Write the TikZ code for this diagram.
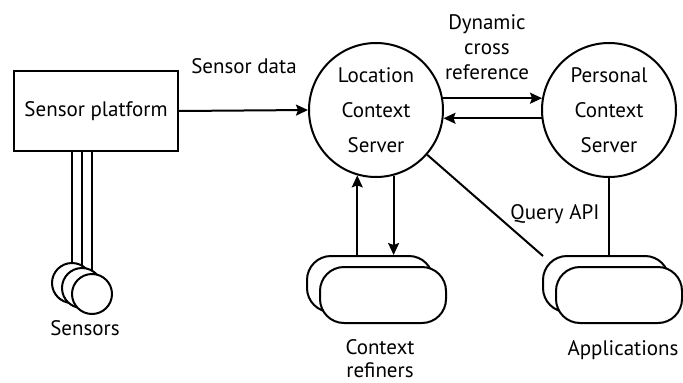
\documentclass[tikz,border=0pt]{standalone}
\usepackage{fontspec}
\setmainfont{PT Sans}
\usepackage{tikz}
\usetikzlibrary{arrows.meta}
\usetikzlibrary{positioning}

\tikzset{
  every picture/.style={line width=2pt,>={Stealth[length=12pt,width=11pt,inset=2pt]}},
  lbl/.style={font=\fontsize{21}{24}\selectfont,align=center,inner sep=0pt},
  server/.style={draw,circle,fill=white,minimum size=134pt,inner sep=0pt,
    font=\fontsize{21}{35}\selectfont,align=center},
  pod/.style={draw,fill=white,rounded corners=24pt,minimum width=126pt,minimum height=56pt},
  sensor/.style={draw,circle,fill=white,minimum size=40pt,inner sep=0pt}
}

\begin{document}
\begin{tikzpicture}[x=1pt,y=-1pt]
	 \useasboundingbox (0,0) rectangle (683,383);
	 \node[draw,minimum width=164pt,minimum height=80pt,lbl] (plat) at (96,111) {Sensor platform};
	 \node[server] (loc) at (376,110) {Location\\Context\\Server};
	 \node[server] (pcs) at (609,110) {Personal\\Context\\Server};
	 \coordinate (s1c) at (72,283);
	 \coordinate (s2c) at (82,288);
	 \coordinate (s3c) at (92,294);
	 % wires down to the sensors
	 \draw (plat.south -| s1c) -- (s1c);
	 \draw (plat.south -| s2c) -- (s2c);
	 \draw (plat.south -| s3c) -- (s3c);
	 \node[sensor] (s1) at (s1c) {};
	 \node[sensor] (s2) at (s2c) {};
	 \node[sensor] (s3) at (s3c) {};
	 \node[lbl] (sens) at (85,328) {Sensors};
	 % query lines go behind the application boxes
	 \draw (loc) -- (543,256) coordinate (qend);
	 \draw (pcs) -- (pcs |- qend);
	 \node[pod] (ref2) at (370,284) {};
	 \node[pod] (ref1) at (383,295) {};
	 \node[pod] (app2) at (606,284) {};
	 \node[pod] (app1) at (619,295) {};
	 \node[lbl,font=\fontsize{21}{23}\selectfont] (reflbl) at (380,359) {Context\\refiners};
	 \node[lbl] (applbl) at (623,350) {Applications};
	 \draw[->] (plat.east) -- (loc.west);
	 \draw[->] (loc.10) -- (pcs.170);
	 \draw[->] (pcs.-173) -- (loc.-7);
	 \draw[->] (ref2.north -| loc.254) -- (loc.254);
	 \draw[->] (loc.285) -- (loc.285 |- ref2.north);
	 \node[lbl] (sdata) at (244,66) {Sensor data};
	 \node[lbl,font=\fontsize{21}{25}\selectfont] (xref) at (487,47) {Dynamic\\cross\\reference};
	 \node[lbl] (qapi) at (555,214) {Query API};
\end{tikzpicture}
\end{document}
